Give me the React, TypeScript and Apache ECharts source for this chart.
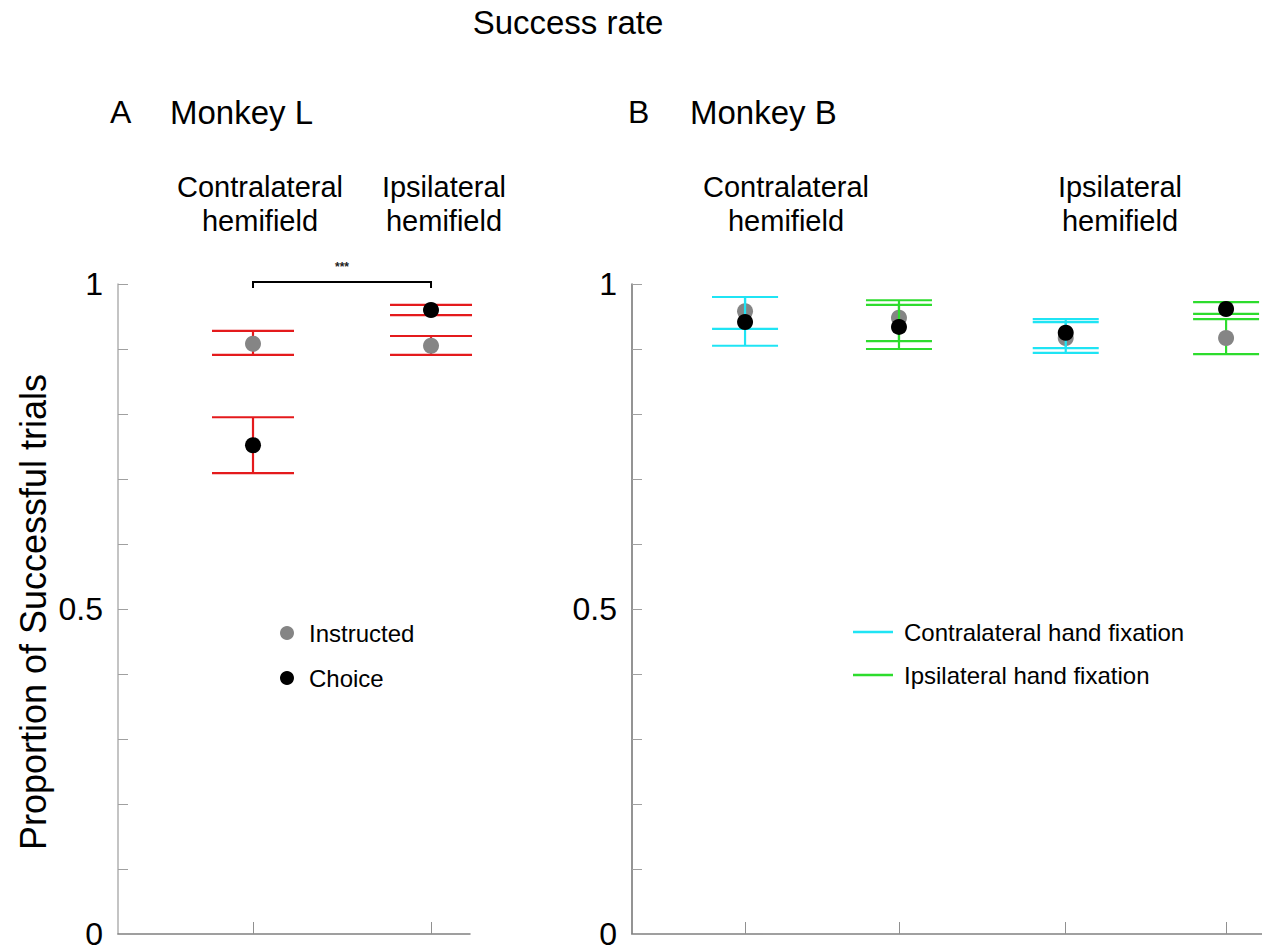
import React, { useEffect, useRef } from 'react';
import * as echarts from 'echarts';

// ---------- Data ----------
// Panel A: Monkey L (x: 1 = contralateral hemifield, 2 = ipsilateral hemifield)
const A_X = [1, 2];
const A_INSTR_MEAN = [0.908, 0.905];
const A_INSTR_LO = [0.891, 0.891];
const A_INSTR_HI = [0.928, 0.92];
const A_CHOICE_MEAN = [0.752, 0.96];
const A_CHOICE_LO = [0.709, 0.952];
const A_CHOICE_HI = [0.795, 0.968];
const A_SIG = [[1, 2, 1.0]];
const A_SIG_LABEL = '***';

// Panel B: Monkey B (contra hemifield: contra hand, ipsi hand; ipsi hemifield: contra hand, ipsi hand)
const B_X = [1, 1.96, 3, 4];
const B_HAND = ['contra', 'ipsi', 'contra', 'ipsi'];
const B_INSTR_MEAN = [0.958, 0.948, 0.917, 0.917];
const B_INSTR_LO = [0.931, 0.912, 0.894, 0.892];
const B_INSTR_HI = [0.98, 0.975, 0.9415, 0.946];
const B_CHOICE_MEAN = [0.9415, 0.934, 0.925, 0.9615];
const B_CHOICE_LO = [0.905, 0.9, 0.9015, 0.954];
const B_CHOICE_HI = [0.98, 0.968, 0.946, 0.972];

const Y_LABELS = [0, 0.5, 1];

const TITLE = 'Success rate';
const Y_TITLE = 'Proportion of Successful trials';

// ---------- Styles ----------
const FONT = "'Liberation Sans', Arial, sans-serif";
const RED = '#e41a1c';
const CYAN = '#1fe4f4';
const GREEN = '#2ddc2d';
const GRAY = '#858585';
const BLACK = '#000000';

const errorBars = (name: string, g: number, xs: number[], lo: number[], hi: number[], color: string, hw: number, z: number) => ({
  type: 'custom',
  name,
  xAxisIndex: g,
  yAxisIndex: g,
  z,
  clip: false,
  encode: { x: 0, y: [1, 2] },
  data: xs.map((x, i) => [x, lo[i], hi[i]]),
  renderItem: (_p: any, api: any) => {
    const x = api.value(0);
    const a = api.coord([x, api.value(1)]);
    const b = api.coord([x, api.value(2)]);
    const style = { stroke: color, lineWidth: 2.2 };
    return {
      type: 'group',
      children: [
        { type: 'line', shape: { x1: a[0], y1: a[1], x2: b[0], y2: b[1] }, style },
        { type: 'line', shape: { x1: a[0] - hw, y1: a[1], x2: a[0] + hw, y2: a[1] }, style },
        { type: 'line', shape: { x1: b[0] - hw, y1: b[1], x2: b[0] + hw, y2: b[1] }, style },
      ],
    };
  },
});

const points = (name: string, g: number, xs: number[], ys: number[], color: string, z: number) => ({
  type: 'scatter',
  name,
  xAxisIndex: g,
  yAxisIndex: g,
  z,
  symbol: 'circle',
  symbolSize: 16,
  itemStyle: { color, opacity: 1 },
  data: xs.map((x, i) => [x, ys[i]]),
});

const pick = (arr: number[], hand: string) => arr.filter((_, i) => B_HAND[i] === hand);

const yAxis = (g: number, lineColor: string) => ({
  type: 'value',
  gridIndex: g,
  min: 0,
  max: 1,
  interval: 0.1,
  axisLine: { show: true, lineStyle: { color: lineColor, width: 1.5 } },
  axisTick: { show: true, inside: true, length: 10, lineStyle: { color: '#a0a0a0', width: 1 } },
  splitLine: { show: false },
  axisLabel: {
    margin: 15,
    color: '#000',
    fontFamily: FONT,
    fontSize: 32,
    formatter: (v: number) => (Y_LABELS.some((l) => Math.abs(l - v) < 1e-9) ? String(+v.toFixed(1)) : ''),
  },
});

const xAxis = (g: number, min: number, max: number, ticks: number[]) => ({
  type: 'value',
  gridIndex: g,
  min,
  max,
  axisLine: { show: true, onZero: false, lineStyle: { color: '#808080', width: 1.5 } },
  axisTick: { show: true, inside: true, length: 12, customValues: ticks, lineStyle: { color: '#909090', width: 1 } },
  axisLabel: { show: false },
  splitLine: { show: false },
});

const txt = (x: number, y: number, text: string, size: number, align = 'center', extra: any = {}) => ({
  type: 'text',
  x,
  y,
  ...extra,
  style: { text, fontFamily: FONT, fontSize: size, fill: '#000', textAlign: align, textVerticalAlign: 'middle' },
});

export default function App() {
  const ref = useRef<HTMLDivElement>(null);
  useEffect(() => {
    const chart = echarts.init(ref.current!, null, { renderer: 'svg' });
    const option: any = {
      animation: false,
      backgroundColor: '#fff',
      grid: [
        { left: 118, top: 284, width: 352, height: 650 },
        { left: 632, top: 284, width: 630, height: 650 },
      ],
      xAxis: [xAxis(0, 0.2416, 2.219, A_X), xAxis(1, 0.295, 4.224, B_X)],
      yAxis: [yAxis(0, '#b0b0b0'), yAxis(1, '#707070')],
      series: [
        // Panel A
        errorBars('A instructed err', 0, A_X, A_INSTR_LO, A_INSTR_HI, RED, 41, 2),
        points('Instructed', 0, A_X, A_INSTR_MEAN, GRAY, 3),
        errorBars('A choice err', 0, A_X, A_CHOICE_LO, A_CHOICE_HI, RED, 41, 4),
        points('Choice', 0, A_X, A_CHOICE_MEAN, BLACK, 5),
        {
          type: 'custom',
          name: 'significance',
          xAxisIndex: 0,
          yAxisIndex: 0,
          z: 6,
          clip: false,
          encode: { x: [0, 1], y: 2 },
          data: A_SIG,
          renderItem: (_p: any, api: any) => {
            const a = api.coord([api.value(0), api.value(2)]);
            const b = api.coord([api.value(1), api.value(2)]);
            return {
              type: 'group',
              children: [
                {
                  type: 'polyline',
                  shape: { points: [[a[0], a[1] + 4], [a[0], a[1] - 2], [b[0], b[1] - 2], [b[0], b[1] + 4]] },
                  style: { stroke: '#000', lineWidth: 2, fill: 'none' },
                },
                {
                  type: 'text',
                  x: (a[0] + b[0]) / 2,
                  y: a[1] - 17,
                  style: { text: A_SIG_LABEL, fontFamily: FONT, fontSize: 12, fontWeight: 'bold', fill: '#222', textAlign: 'center', textVerticalAlign: 'middle' },
                },
              ],
            };
          },
        },
        // Panel B
        errorBars('B instructed contra hand', 1, pick(B_X, 'contra'), pick(B_INSTR_LO, 'contra'), pick(B_INSTR_HI, 'contra'), CYAN, 33, 2),
        errorBars('B instructed ipsi hand', 1, pick(B_X, 'ipsi'), pick(B_INSTR_LO, 'ipsi'), pick(B_INSTR_HI, 'ipsi'), GREEN, 33, 2),
        points('B Instructed', 1, B_X, B_INSTR_MEAN, GRAY, 3),
        errorBars('B choice contra hand', 1, pick(B_X, 'contra'), pick(B_CHOICE_LO, 'contra'), pick(B_CHOICE_HI, 'contra'), CYAN, 33, 4),
        errorBars('B choice ipsi hand', 1, pick(B_X, 'ipsi'), pick(B_CHOICE_LO, 'ipsi'), pick(B_CHOICE_HI, 'ipsi'), GREEN, 33, 4),
        points('B Choice', 1, B_X, B_CHOICE_MEAN, BLACK, 5),
      ],
      graphic: [
        txt(568, 22, TITLE, 33),
        txt(110, 112, 'A', 32, 'left'),
        txt(170, 112, 'Monkey L', 33, 'left'),
        txt(628, 112, 'B', 32, 'left'),
        txt(690, 112, 'Monkey B', 33, 'left'),
        txt(260, 187, 'Contralateral', 29),
        txt(260, 221, 'hemifield', 29),
        txt(444, 187, 'Ipsilateral', 29),
        txt(444, 221, 'hemifield', 29),
        txt(786, 187, 'Contralateral', 29),
        txt(786, 221, 'hemifield', 29),
        txt(1120, 187, 'Ipsilateral', 29),
        txt(1120, 221, 'hemifield', 29),
        txt(33, 612, Y_TITLE, 36, 'center', { rotation: Math.PI / 2 }),
        // legend A
        { type: 'circle', shape: { cx: 287, cy: 633, r: 7 }, style: { fill: GRAY } },
        txt(309, 633, 'Instructed', 24, 'left'),
        { type: 'circle', shape: { cx: 287, cy: 678, r: 7 }, style: { fill: BLACK } },
        txt(309, 678, 'Choice', 24, 'left'),
        // legend B
        { type: 'line', shape: { x1: 853, y1: 632, x2: 893, y2: 632 }, style: { stroke: CYAN, lineWidth: 2.5 } },
        txt(904, 632, 'Contralateral hand fixation', 24, 'left'),
        { type: 'line', shape: { x1: 853, y1: 675, x2: 893, y2: 675 }, style: { stroke: GREEN, lineWidth: 2.5 } },
        txt(904, 675, 'Ipsilateral hand fixation', 24, 'left'),
      ],
    };
    chart.setOption(option);
    return () => chart.dispose();
  }, []);
  return <div ref={ref} style={{ position: 'absolute', left: 0, top: 0, width: 1262, height: 951, background: '#fff' }} />;
}
